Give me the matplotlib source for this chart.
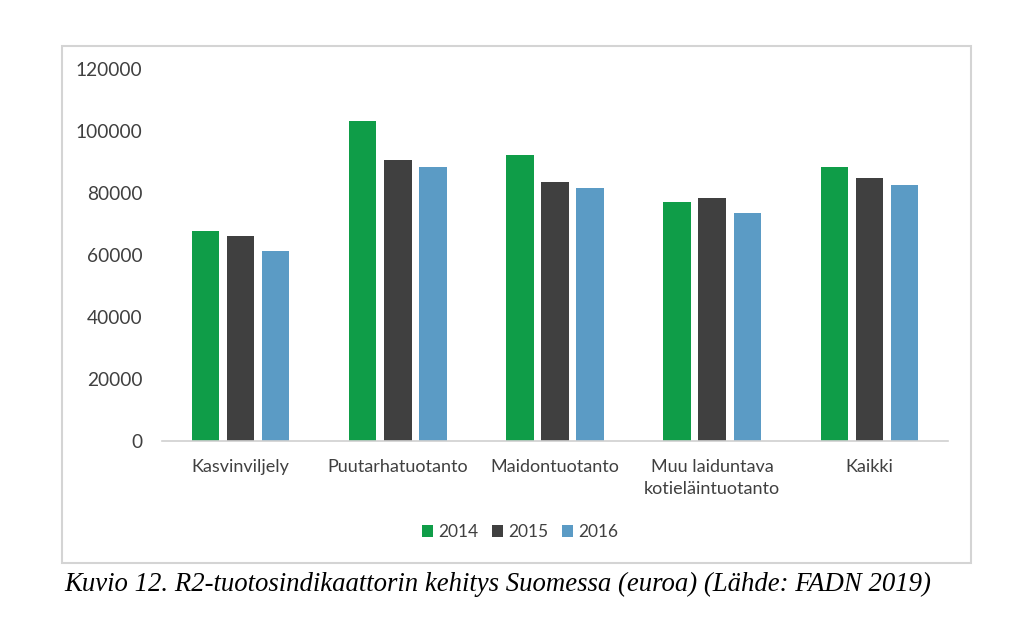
import matplotlib
matplotlib.use("Agg")
import matplotlib.pyplot as plt
from matplotlib.patches import Rectangle
import numpy as np

categories = ["Kasvinviljely", "Puutarhatuotanto", "Maidontuotanto",
              "Muu laiduntava\nkotieläintuotanto", "Kaikki"]
years = ["2014", "2015", "2016"]
v2014 = [67600, 103100, 92400, 77100, 88300]
v2015 = [66100, 90800, 83700, 78500, 84800]
v2016 = [61200, 88500, 81500, 73400, 82500]
colors = ["#0f9d48", "#404040", "#5b9bc5"]
yticks = [0, 20000, 40000, 60000, 80000, 100000, 120000]

plt.rcParams["font.family"] = ["Lato", "DejaVu Sans"]

fig = plt.figure(figsize=(10.24, 6.27), dpi=100)
fig.patch.set_facecolor("white")

# light gray frame around the chart
fig.patches.append(Rectangle((62 / 1024, 1 - 563 / 627), 909 / 1024, 517 / 627,
                             transform=fig.transFigure, fill=False,
                             edgecolor="#d4d4d4", linewidth=1.5))

ax = fig.add_axes([162 / 1024, 1 - 441 / 627, 786 / 1024, 372 / 627])

x = np.arange(len(categories))
w = 0.175
step = 0.223
for i, (vals, yr) in enumerate(zip([v2014, v2015, v2016], years)):
    ax.bar(x + (i - 1) * step, vals, width=w, color=colors[i], label=yr, zorder=2)

ax.set_xlim(-0.5, len(categories) - 0.5)
ax.set_ylim(0, 120000)
ax.set_yticks(yticks)
ax.set_yticklabels([str(t) for t in yticks], fontsize=13.8, color="#404040")
ax.set_xticks(x)
ax.set_xticklabels(categories, fontsize=13, color="#404040", linespacing=1.45)
ax.tick_params(axis="y", length=0, pad=14)
ax.tick_params(axis="x", length=0, pad=13)
for s in ["top", "right", "left"]:
    ax.spines[s].set_visible(False)
ax.spines["bottom"].set_color("#d0d0d0")
ax.spines["bottom"].set_linewidth(1.2)

leg = fig.legend(loc="center", bbox_to_anchor=(520 / 1024, 1 - 532 / 627), ncol=3,
                 frameon=False, fontsize=12.5, handlelength=0.63, handleheight=0.63,
                 handletextpad=0.3, columnspacing=0.8)
for t in leg.get_texts():
    t.set_color("#404040")

fig.text(64 / 1024, 1 - 584 / 627,
         "Kuvio 12. R2-tuotosindikaattorin kehitys Suomessa (euroa) (Lähde: FADN 2019)",
         fontsize=19.3, style="italic", family=["Liberation Serif", "DejaVu Serif"],
         va="center", ha="left", color="black")

fig.savefig("out.png", dpi=100)
